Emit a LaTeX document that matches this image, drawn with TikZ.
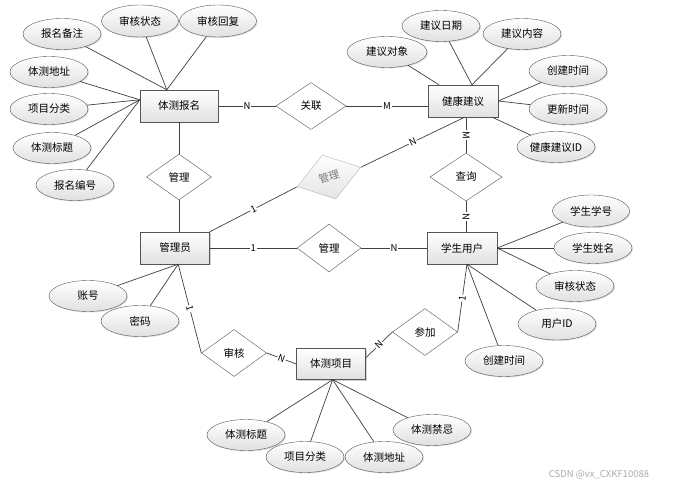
\documentclass[tikz,border=0pt]{standalone}
\usepackage{fontspec}
\setmainfont{Noto Sans CJK SC}
\usetikzlibrary{shapes.geometric,shadows}
\definecolor{line-dark}{RGB}{64,64,64}
\definecolor{border-dark}{RGB}{85,85,85}
\definecolor{fill-light}{RGB}{225,225,225}
\definecolor{ghost-line}{RGB}{180,180,180}
\definecolor{ghost-fill}{RGB}{228,228,228}
\definecolor{ghost-text}{RGB}{120,120,120}
\definecolor{mark-text}{RGB}{170,170,170}

\begin{document}
\begin{tikzpicture}[
  x=1pt, y=-1pt,
  entity/.style={
    rectangle,
    draw=border-dark,
    top color=white,
    bottom color=fill-light,
    minimum width=70pt,
    minimum height=32pt,
    font=\fontsize{10.5}{12}\selectfont,
    drop shadow={shadow xshift=1pt, shadow yshift=-1pt, opacity=0.35}
  },
  relation/.style={
    diamond,
    draw=border-dark,
    fill=white,
    minimum width=65pt,
    minimum height=47pt,
    inner sep=0pt,
    font=\fontsize{10.5}{12}\selectfont
  },
  attr/.style={
    ellipse,
    draw=border-dark,
    top color=white,
    bottom color=fill-light,
    minimum width=78pt,
    minimum height=31pt,
    inner sep=0pt,
    font=\fontsize{10.5}{12}\selectfont,
    drop shadow={shadow xshift=1pt, shadow yshift=-1pt, opacity=0.25}
  },
  card/.style={
    fill=white,
    inner sep=0.8pt,
    font=\fontsize{9.5}{10}\selectfont
  },
  link/.style={
    draw=line-dark,
    line width=0.7pt
  }
]
\fill[white] (0,0) rectangle (675,489);
\useasboundingbox (0,0) rectangle (675,489);

% Entities
\node[entity, minimum width=78pt] (bm) at (179,106) {体测报名};
\node[entity] (jk) at (463,101) {健康建议};
\node[entity, minimum width=69pt] (gly) at (175,248) {管理员};
\node[entity] (xs) at (462,248) {学生用户};
\node[entity, minimum width=69pt, minimum height=31pt] (xm) at (331,364) {体测项目};

% Relations
\node[relation, minimum width=70pt] (gl) at (311,106) {关联};
\node[relation, minimum height=46pt] (glb) at (179,177) {管理};
\node[relation, draw=ghost-line, top color=white, bottom color=ghost-fill, text=ghost-text, rotate=17, minimum width=66pt, minimum height=46pt] (glj) at (329,177) {管理};
\node[relation, minimum width=72pt, minimum height=48pt] (cx) at (466,177) {查询};
\node[relation, minimum width=64pt, minimum height=48pt] (glx) at (329,248) {管理};
\node[relation] (sh) at (234,353) {审核};
\node[relation] (cj) at (425,332) {参加};

% Attributes of 体测报名
\node[attr] (bm1) at (62,34) {报名备注};
\node[attr, minimum width=77pt, minimum height=32pt] (bm2) at (140,21) {审核状态};
\node[attr, minimum width=77pt, minimum height=32pt] (bm3) at (218,21) {审核回复};
\node[attr] (bm4) at (49,72) {体测地址};
\node[attr] (bm5) at (49,109) {项目分类};
\node[attr] (bm6) at (52,148) {体测标题};
\node[attr] (bm7) at (75,185) {报名编号};

% Attributes of 健康建议
\node[attr, minimum width=80pt] (jk1) at (387,52) {建议对象};
\node[attr] (jk2) at (441,26) {建议日期};
\node[attr] (jk3) at (522,34) {建议内容};
\node[attr] (jk4) at (568,71) {创建时间};
\node[attr] (jk5) at (568,109) {更新时间};
\node[attr] (jk6) at (556,147) {健康建议ID};

% Attributes of 学生用户
\node[attr, minimum width=77pt, minimum height=32pt] (xs1) at (591,211) {学生学号};
\node[attr] (xs2) at (593,248) {学生姓名};
\node[attr] (xs3) at (575,286) {审核状态};
\node[attr, minimum height=32pt] (xs4) at (557,324) {用户ID};
\node[attr] (xs5) at (504,361) {创建时间};

% Attributes of 体测项目
\node[attr] (xm1) at (246,435) {体测标题};
\node[attr] (xm2) at (305,457) {项目分类};
\node[attr] (xm3) at (384,457) {体测地址};
\node[attr] (xm4) at (432,430) {体测禁忌};

% Attributes of 管理员
\node[attr] (gly1) at (88,296) {账号};
\node[attr] (gly2) at (140,321) {密码};

% Attribute links
\foreach \a in {bm1,bm2,bm3} \draw[link] (\a) -- (bm.127);
\foreach \a in {bm4,bm5,bm6,bm7} \draw[link] (\a) -- (bm.171);
\draw[link] (jk1) -- (jk.146);
\foreach \a in {jk2,jk3} \draw[link] (\a) -- (jk.61);
\foreach \a in {jk4,jk5} \draw[link] (\a) -- (jk.east);
\draw[link] (jk6) -- (jk.-29);
\foreach \a in {xs1,xs2,xs3} \draw[link] (\a) -- (xs.east);
\foreach \a in {xs4,xs5} \draw[link] (\a) -- (xs.-73);
\foreach \a in {xm1,xm2,xm3,xm4} \draw[link] (\a) -- (xm.-84);
\foreach \a in {gly1,gly2} \draw[link] (\a) -- (gly.-79);

% Relation links with cardinalities
\draw[link] (bm.east) -- node[card] {N} (gl.west);
\draw[link] (gl.east) -- node[card] {M} (gl.east -| jk.west);
\draw[link] (bm.south) -- (glb.north);
\draw[link] (glb.south) -- (glb.south |- gly.north);
\draw[link] (gly.north east) -- node[card, sloped] {1} (glj.west);
\draw[link] (glj.east) -- node[card, sloped] {N} (jk.-84);
\draw[link] (jk.south -| cx.north) -- node[card, sloped] {M} (cx.north);
\draw[link] (cx.south) -- node[card, sloped] {N} (cx.south |- xs.north);
\draw[link] (gly.east) -- node[card] {1} (glx.west);
\draw[link] (glx.east) -- node[card] {N} (xs.west);
\draw[link] (gly.-79) -- node[card, sloped] {1} (sh.west);
\draw[link] (sh.east) -- node[card, sloped] {N} (xm.west);
\draw[link] (xm.10) -- node[card, sloped] {N} (cj.west);
\draw[link] (cj.east) -- node[card, sloped] {1} (xs.-73);

% Watermark
\node[text=mark-text, font=\fontsize{9.5}{11}\selectfont] (mark) at (599,475) {CSDN @vx\_CXKF10088};

\end{tikzpicture}
\end{document}
